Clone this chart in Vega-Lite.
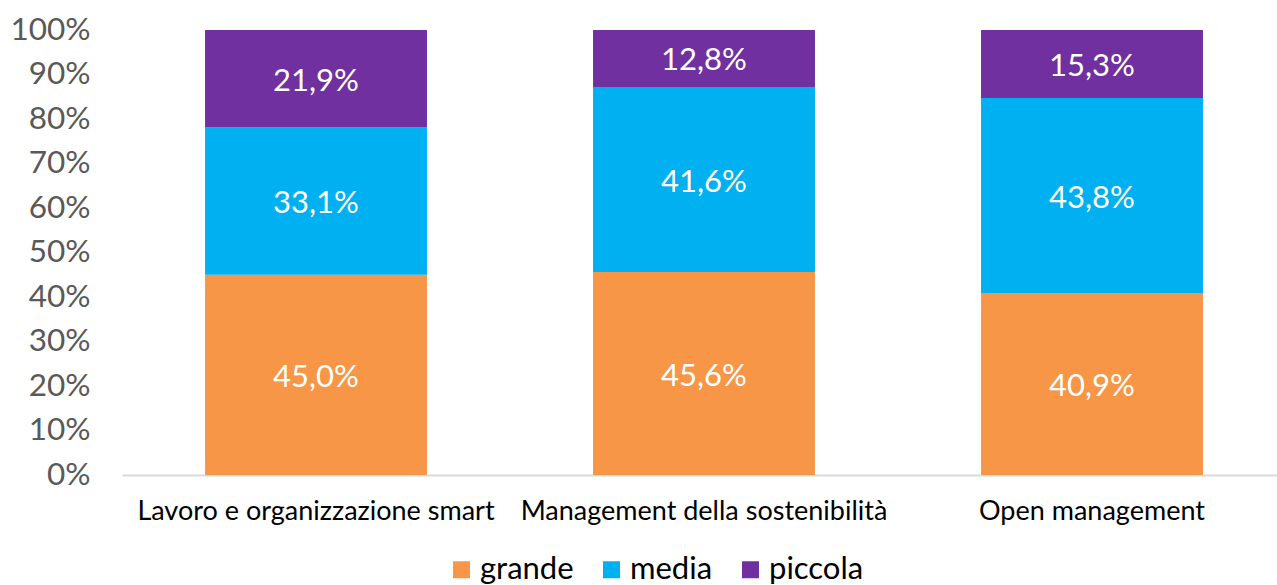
{
  "$schema": "https://vega.github.io/schema/vega-lite/v6.json",
  "width": 1164,
  "height": 445,
  "autosize": {"type": "none"},
  "padding": {"left": 122, "top": 30, "right": 0, "bottom": 110},
  "background": "white",
  "config": {"view": {"stroke": null}, "font": "Lato"},
  "data": {
    "values": [
      {"cat": "Lavoro e organizzazione smart", "size": "grande", "ord": 1, "v": 45.0},
      {"cat": "Lavoro e organizzazione smart", "size": "media", "ord": 2, "v": 33.1},
      {"cat": "Lavoro e organizzazione smart", "size": "piccola", "ord": 3, "v": 21.9},
      {"cat": "Management della sostenibilità", "size": "grande", "ord": 1, "v": 45.6},
      {"cat": "Management della sostenibilità", "size": "media", "ord": 2, "v": 41.6},
      {"cat": "Management della sostenibilità", "size": "piccola", "ord": 3, "v": 12.8},
      {"cat": "Open management", "size": "grande", "ord": 1, "v": 40.9},
      {"cat": "Open management", "size": "media", "ord": 2, "v": 43.8},
      {"cat": "Open management", "size": "piccola", "ord": 3, "v": 15.3}
    ]
  },
  "transform": [
    {"stack": "v", "groupby": ["cat"], "sort": [{"field": "ord", "order": "ascending"}], "offset": "normalize", "as": ["y0", "y1"]},
    {"calculate": "(datum.y0 + datum.y1) / 2", "as": "ymid"},
    {"calculate": "replace(format(datum.v, '.1f'), '.', ',') + '%'", "as": "lab"}
  ],
  "encoding": {
    "x": {
      "field": "cat",
      "type": "nominal",
      "sort": null,
      "scale": {"paddingInner": 0.428, "paddingOuter": 0.214},
      "axis": {
        "title": null,
        "labelAngle": 0,
        "labelFontSize": 27,
        "labelColor": "#000000",
        "labelPadding": 23,
        "ticks": false,
        "domainColor": "#d9d9d9",
        "domainWidth": 2,
        "labelLimit": 500
      }
    }
  },
  "layer": [
    {
      "mark": {"type": "bar"},
      "encoding": {
        "y": {
          "field": "y0",
          "type": "quantitative",
          "scale": {"domain": [0, 1]},
          "axis": {
            "title": null,
            "format": ".0%",
            "values": [0, 0.1, 0.2, 0.3, 0.4, 0.5, 0.6, 0.7, 0.8, 0.9, 1],
            "grid": false,
            "domain": false,
            "ticks": false,
            "labelFontSize": 31.5,
            "labelColor": "#595959",
            "labelPadding": 32
          }
        },
        "y2": {"field": "y1"},
        "color": {
          "field": "size",
          "type": "nominal",
          "scale": {"domain": ["grande", "media", "piccola"], "range": ["#F79646", "#00B0F0", "#7030A0"]},
          "legend": {
            "title": null,
            "orient": "none",
            "direction": "horizontal",
            "legendX": 324,
            "legendY": 524,
            "symbolType": "square",
            "symbolSize": 289,
            "symbolOpacity": 1,
            "labelFontSize": 31,
            "labelColor": "#000000",
            "labelOffset": 3,
            "columnPadding": 22
          }
        }
      }
    },
    {
      "mark": {"type": "text", "color": "white", "fontSize": 31, "baseline": "middle", "dy": 3},
      "encoding": {
        "y": {"field": "ymid", "type": "quantitative"},
        "text": {"field": "lab"}
      }
    }
  ]
}
